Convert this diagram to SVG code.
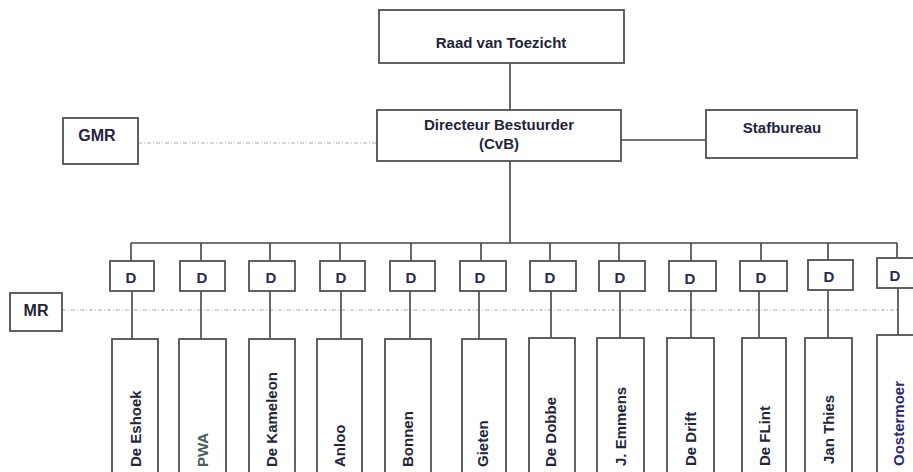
<svg xmlns="http://www.w3.org/2000/svg" width="913" height="472" viewBox="0 0 913 472">
<style>
.box{fill:#fff;stroke:#505050;stroke-width:1.8}
.ln{stroke:#444;stroke-width:1.6;fill:none}
.dash{stroke:#aaa;stroke-width:1.2;stroke-dasharray:4 2 1 2;fill:none}
.t{font-family:"Liberation Sans",Arial,sans-serif;font-weight:bold;font-size:15px;fill:#24243a}
.c{text-anchor:middle}
.d{font-family:"Liberation Sans",Arial,sans-serif;font-weight:bold;font-size:15px;fill:#2a2a55;text-anchor:middle}
</style>
<rect width="913" height="472" fill="#fff"/>
<g id="connectors">
<line class="ln" x1="510" y1="63" x2="510" y2="110"/>
<line class="ln" x1="621" y1="140" x2="706" y2="140"/>
<line class="dash" x1="138" y1="143" x2="377" y2="143"/>
<line class="ln" x1="510" y1="161" x2="510" y2="243"/>
<line class="ln" x1="131" y1="243" x2="897" y2="243"/>
<path class="ln" d="M131 243V261M201 243V261M270 243V261M340 243V261M411 243V261M481 243V261M550 243V261M619 243V261M691 243V261M761 243V261M828 243V261M897 243V258"/>
<line class="dash" x1="62" y1="310" x2="897" y2="310"/>
<path class="ln" d="M132 291V339M201 291V339M270 291V339M341 291V339M410 291V339M479 291V339M551 291V338M620 291V338M691 291V338M759 291V338M828 291V338M898 288V335"/>
</g>
<g id="raad"><rect class="box" x="379" y="10" width="245" height="53"/><text class="t c" x="501" y="48">Raad van Toezicht</text></g>
<g id="directeur"><rect class="box" x="377" y="110" width="244" height="51"/><text class="t c" x="499" y="130">Directeur Bestuurder</text><text class="t c" x="499" y="149">(CvB)</text></g>
<g id="stafbureau"><rect class="box" x="706" y="110" width="151" height="48"/><text class="t c" x="782" y="133">Stafbureau</text></g>
<g id="gmr"><rect class="box" x="63" y="118" width="75" height="46"/><text class="t c" x="97" y="141" style="font-size:16px">GMR</text></g>
<g id="mr"><rect class="box" x="10" y="293" width="52" height="38"/><text class="t c" x="36" y="316" style="font-size:16px">MR</text></g>
<g id="d1"><rect class="box" x="110" y="261" width="44" height="30"/><text class="d" x="131" y="283">D</text></g>
<g id="d2"><rect class="box" x="180" y="261" width="45" height="30"/><text class="d" x="202" y="283">D</text></g>
<g id="d3"><rect class="box" x="249" y="261" width="46" height="30"/><text class="d" x="271" y="283">D</text></g>
<g id="d4"><rect class="box" x="320" y="261" width="45" height="30"/><text class="d" x="341" y="283">D</text></g>
<g id="d5"><rect class="box" x="390" y="261" width="45" height="30"/><text class="d" x="411" y="283">D</text></g>
<g id="d6"><rect class="box" x="460" y="261" width="46" height="30"/><text class="d" x="480" y="283">D</text></g>
<g id="d7"><rect class="box" x="530" y="261" width="46" height="30"/><text class="d" x="550" y="283">D</text></g>
<g id="d8"><rect class="box" x="599" y="261" width="46" height="30"/><text class="d" x="620" y="283">D</text></g>
<g id="d9"><rect class="box" x="669" y="261" width="47" height="30"/><text class="d" x="690" y="284">D</text></g>
<g id="d10"><rect class="box" x="740" y="261" width="47" height="30"/><text class="d" x="761" y="283">D</text></g>
<g id="d11"><rect class="box" x="808" y="260" width="45" height="30"/><text class="d" x="829" y="282">D</text></g>
<g id="d12"><rect class="box" x="877" y="258" width="50" height="30"/><text class="d" x="895" y="281">D</text></g>
<g id="s1"><rect class="box" x="112" y="339" width="46" height="145"/><text class="t" transform="translate(141 467) rotate(-90)">De Eshoek</text></g>
<g id="s2"><rect class="box" x="179" y="339" width="47" height="145"/><text class="t" transform="translate(208 467) rotate(-90)" style="fill:#4a5c5c">PWA</text></g>
<g id="s3"><rect class="box" x="249" y="339" width="46" height="145"/><text class="t" transform="translate(277 467) rotate(-90)">De Kameleon</text></g>
<g id="s4"><rect class="box" x="317" y="339" width="45" height="145"/><text class="t" transform="translate(345 467) rotate(-90)">Anloo</text></g>
<g id="s5"><rect class="box" x="385" y="339" width="46" height="145"/><text class="t" transform="translate(413 467) rotate(-90)">Bonnen</text></g>
<g id="s6"><rect class="box" x="462" y="339" width="44" height="145"/><text class="t" transform="translate(488 467) rotate(-90)">Gieten</text></g>
<g id="s7"><rect class="box" x="529" y="338" width="46" height="146"/><text class="t" transform="translate(556 467) rotate(-90)">De Dobbe</text></g>
<g id="s8"><rect class="box" x="597" y="338" width="47" height="146"/><text class="t" transform="translate(626 466) rotate(-90)">J. Emmens</text></g>
<g id="s9"><rect class="box" x="667" y="338" width="47" height="146"/><text class="t" transform="translate(696 466) rotate(-90)">De Drift</text></g>
<g id="s10"><rect class="box" x="742" y="338" width="44" height="146"/><text class="t" transform="translate(770 466) rotate(-90)">De FLint</text></g>
<g id="s11"><rect class="box" x="805" y="338" width="47" height="146"/><text class="t" transform="translate(834 464) rotate(-90)">Jan Thies</text></g>
<g id="s12"><rect class="box" x="877" y="335" width="50" height="149"/><text class="t" transform="translate(904 466) rotate(-90)" style="fill:#2e2a70">Oostermoer</text></g>
</svg>
